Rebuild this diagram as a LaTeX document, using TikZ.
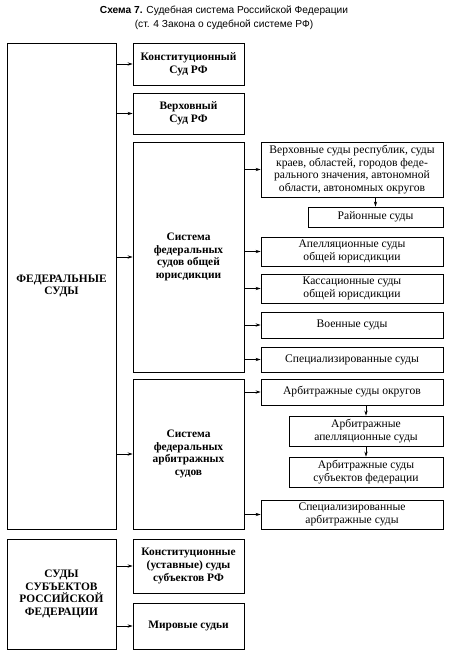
\documentclass[tikz,border=0pt]{standalone}
\usepackage{fontspec}
\setmainfont{Liberation Serif}
\newfontfamily\titrefont{Liberation Sans}
\usetikzlibrary{arrows.meta}

\begin{document}
\begin{tikzpicture}[x=1pt,y=-1pt]
\tikzset{sud/.style={draw, line width=0.7pt, inner sep=0pt, align=center, font=\fontsize{11.6}{12.5}\selectfont},
  sudgras/.style={sud, font=\fontsize{11.4}{12.8}\selectfont\bfseries},
  titre/.style={align=center, inner sep=0pt, font=\titrefont\fontsize{10.2}{14}\selectfont},
  fleche/.style={line width=0.7pt, -{Stealth[length=5pt,width=3.2pt]}}}
\useasboundingbox (0,0) rectangle (450,660);
\node[titre] (T) at (224,18) {\textbf{Схема 7.} Судебная система Российской Федерации\\(ст. 4 Закона о судебной системе РФ)};
% federal courts
\node[sudgras, minimum width=109, minimum height=486] (FS) at (61.5,286) {ФЕДЕРАЛЬНЫЕ\\СУДЫ};
\node[sudgras, minimum width=111, minimum height=42] (KS) at (188.5,64) {Конституционный\\Суд РФ};
\node[sudgras, minimum width=111, minimum height=41] (VS) at (188.5,113.5) {Верховный\\Суд РФ};
\node[sudgras, minimum width=111, minimum height=230] (SO) at (188.5,257) {Система\\федеральных\\судов общей\\юрисдикции};
\node[sudgras, minimum width=111, minimum height=150] (SA) at (188.5,454) {Система\\федеральных\\арбитражных\\судов};
\node[sud, minimum width=182, minimum height=55] (VSR) at (352,169.5) {Верховные суды республик, суды\\краев, областей, городов феде-\\рального значения, автономной\\области, автономных округов};
\node[sud, minimum width=135, minimum height=20] (RS) at (375.5,217) {Районные суды};
\node[sud, minimum width=182, minimum height=29] (AS) at (352,251.5) {Апелляционные суды\\общей юрисдикции};
\node[sud, minimum width=182, minimum height=29] (KasS) at (352,288.5) {Кассационные суды\\общей юрисдикции};
\node[sud, minimum width=182, minimum height=26] (VoS) at (352,325) {Военные суды};
\node[sud, minimum width=182, minimum height=25] (SpS) at (352,359.5) {Специализированные суды};
\node[sud, minimum width=182, minimum height=26] (ASO) at (352,392) {Арбитражные суды округов};
\node[sud, minimum width=154, minimum height=30] (AAS) at (366,431) {Арбитражные\\апелляционные суды};
\node[sud, minimum width=154, minimum height=30] (ASS) at (366,472) {Арбитражные суды\\субъектов федерации};
\node[sud, minimum width=182, minimum height=29] (SAS) at (352,514.5) {Специализированные\\арбитражные суды};
% courts of the subjects
\node[sudgras, minimum width=109, minimum height=110] (SSRF) at (61.5,594) {СУДЫ\\СУБЪЕКТОВ\\РОССИЙСКОЙ\\ФЕДЕРАЦИИ};
\node[sudgras, minimum width=111, minimum height=54] (KUS) at (188.5,566) {Конституционные\\(уставные) суды\\субъектов РФ};
\node[sudgras, minimum width=111, minimum height=46] (MS) at (188.5,626) {Мировые судьи};
\draw[fleche] (FS.east |- KS) -- (KS);
\draw[fleche] (FS.east |- VS) -- (VS);
\draw[fleche] (FS.east |- SO) -- (SO);
\draw[fleche] (FS.east |- SA) -- (SA);
\draw[fleche] (SO.east |- VSR) -- (VSR);
\draw[fleche] (VSR.south -| RS) -- (RS);
\draw[fleche] (SO.east |- AS) -- (AS);
\draw[fleche] (SO.east |- KasS) -- (KasS);
\draw[fleche] (SO.east |- VoS) -- (VoS);
\draw[fleche] (SO.east |- SpS) -- (SpS);
\draw[fleche] (SA.east |- ASO) -- (ASO);
\draw[fleche] (ASO.south -| AAS) -- (AAS);
\draw[fleche] (AAS) -- (ASS);
\draw[fleche] (SA.east |- SAS) -- (SAS);
\draw[fleche] (SSRF.east |- KUS) -- (KUS);
\draw[fleche] (SSRF.east |- MS) -- (MS);
\end{tikzpicture}
\end{document}
